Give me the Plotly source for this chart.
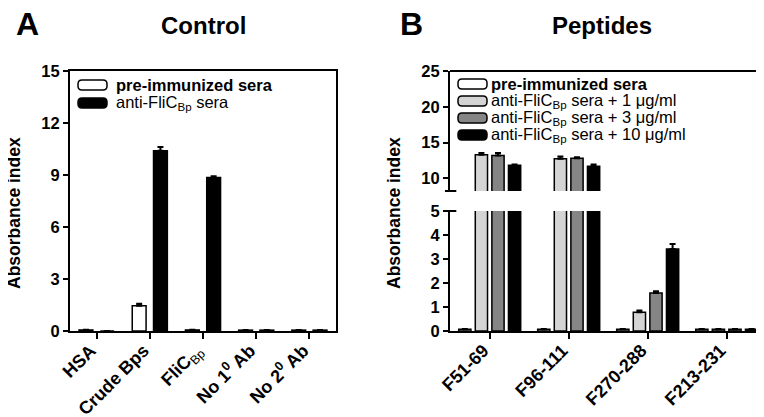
import plotly.graph_objects as go

W, H = 764, 417


def fx(px):
    return px / W


def fy(py):
    return 1 - py / H


FONT = "Liberation Sans, Arial, sans-serif"

# ---------------- Panel A data ----------------
categories_a = ["HSA", "Crude Bps",
                "FliC<sub><span style='font-weight:normal'>Bp</span></sub>",
                "No 1<sup>0</sup> Ab", "No 2<sup>0</sup> Ab"]
names_a = ["<b>pre-immunized sera</b>", "anti-FliC<sub>Bp</sub> sera"]
colors_a = ["#ffffff", "#000000"]
pre_a = [0.06, 1.45, 0.06, 0.05, 0.05]
pre_a_err = [0.01, 0.12, 0.01, 0.01, 0.01]
anti_a = [0.0, 10.4, 8.85, 0.05, 0.05]
anti_a_err = [0.0, 0.22, 0.08, 0.01, 0.01]
values_a = [pre_a, anti_a]
errors_a = [pre_a_err, anti_a_err]

# ---------------- Panel B data ----------------
categories_b = ["F51-69", "F96-111", "F270-288", "F213-231"]
names_b = ["<b>pre-immunized sera</b>",
           "anti-FliC<sub>Bp</sub> sera + 1 \u03bcg/ml",
           "anti-FliC<sub>Bp</sub> sera + 3 \u03bcg/ml",
           "anti-FliC<sub>Bp</sub> sera + 10 \u03bcg/ml"]
colors_b = ["#ffffff", "#d4d4d4", "#858585", "#000000"]
pre_b = [0.07, 0.07, 0.07, 0.07]
c1_b = [13.3, 12.75, 0.78, 0.07]
c3_b = [13.2, 12.8, 1.58, 0.07]
c10_b = [11.85, 11.7, 3.42, 0.07]
pre_b_err = [0.01, 0.01, 0.01, 0.01]
c1_b_err = [0.25, 0.3, 0.07, 0.01]
c3_b_err = [0.35, 0.15, 0.08, 0.01]
c10_b_err = [0.1, 0.25, 0.2, 0.01]
values_b = [pre_b, c1_b, c3_b, c10_b]
errors_b = [pre_b_err, c1_b_err, c3_b_err, c10_b_err]

y_ticks_a = [0, 3, 6, 9, 12, 15]
y_ticks_b_low = [0, 1, 2, 3, 4, 5]
y_ticks_b_high = [10, 15, 20, 25]
break_low = 8.24

fig = go.Figure()


def err(arr):
    return dict(type="data", array=arr, arrayminus=[0] * len(arr), symmetric=False,
                color="black", thickness=2, width=3)


for i, (vals, errs, col) in enumerate(zip(values_a, errors_a, colors_a)):
    fig.add_trace(go.Bar(x=categories_a, y=vals, width=0.26, offset=-0.33 + 0.4 * i,
                         marker=dict(color=col, line=dict(color="black", width=1.5)),
                         error_y=err(errs), xaxis="x", yaxis="y", showlegend=False))

for ya in ["y2", "y3"]:
    for i, (vals, errs, col) in enumerate(zip(values_b, errors_b, colors_b)):
        fig.add_trace(go.Bar(x=categories_b, y=vals, width=0.155, offset=-0.39 + 0.21 * i,
                             marker=dict(color=col, line=dict(color="black", width=1.5)),
                             error_y=err(errs), xaxis="x2", yaxis=ya, showlegend=False))

yfont = dict(family=FONT, size=16.5, color="black", weight="bold")
xfont = dict(family=FONT, size=18, color="black", weight="bold")


def ax(**kw):
    d = dict(showline=True, linecolor="black", linewidth=2, ticks="outside",
             ticklen=5, tickwidth=2, tickcolor="black", showgrid=False,
             zeroline=False, automargin=False, tickfont=yfont)
    d.update(kw)
    return d


xa = ax(tickfont=xfont, domain=[fx(62), fx(328)], anchor="y",
        range=[-0.5, 4.5], tickangle=-45, ticklen=6, mirror=True, type="category")
xb = ax(tickfont=xfont, domain=[fx(442), fx(758)], anchor="y2",
        range=[-0.5, 3.5], tickangle=-45, ticklen=6, type="category")

fig.update_layout(
    width=W, height=H, margin=dict(l=0, r=0, t=0, b=0),
    plot_bgcolor="white", paper_bgcolor="white", barmode="overlay",
    xaxis=xa, xaxis2=xb,
    yaxis=ax(domain=[fy(323), fy(63)], anchor="x", range=[0, 15],
             tickvals=y_ticks_a, mirror=True),
    yaxis2=ax(domain=[fy(323), fy(203)], anchor="x2", range=[0, 5],
              tickvals=y_ticks_b_low),
    yaxis3=ax(domain=[fy(183), fy(63)], anchor="x2", range=[break_low, 25],
              tickvals=y_ticks_b_high),
)
for name in ["xaxis", "xaxis2"]:
    try:
        fig.update_layout({name: dict(ticklabelshift=-6)})
    except Exception:
        pass
    try:
        fig.update_layout({name: dict(ticklabelstandoff=-6)})
    except Exception:
        pass

shapes = []
line = dict(color="black", width=2)
# frame for panel B
shapes.append(dict(type="line", xref="x2 domain", yref="y3 domain", x0=0, x1=1, y0=1, y1=1, line=line))
shapes.append(dict(type="line", xref="x2 domain", yref="paper", x0=1, x1=1, y0=fy(323), y1=fy(63), line=line))
# axis break caps
shapes.append(dict(type="line", xref="x2 domain", yref="y2 domain", x0=-0.016, x1=0.02, y0=1, y1=1, line=line))
shapes.append(dict(type="line", xref="x2 domain", yref="y3 domain", x0=-0.016, x1=0.02, y0=0, y1=0, line=line))


def pill(cx, cy, color):
    w, h, r = 14.5, 5, 4
    p = (f"M{-w + r},{-h} L{w - r},{-h} Q{w},{-h} {w},{-h + r} L{w},{h - r} Q{w},{h} {w - r},{h} "
         f"L{-w + r},{h} Q{-w},{h} {-w},{h - r} L{-w},{-h + r} Q{-w},{-h} {-w + r},{-h} Z")
    return dict(type="path", xref="paper", yref="paper", xsizemode="pixel", ysizemode="pixel",
                xanchor=fx(cx), yanchor=fy(cy), path=p, fillcolor=color,
                line=dict(color="black", width=1.5))


annotations = []
legfont = dict(family=FONT, size=16.5, color="black")
for i, (nm, col) in enumerate(zip(names_a, colors_a)):
    cy = 77 + 18 * i
    shapes.append(pill(84.5, cy, col))
    annotations.append(dict(text=nm, xref="paper", yref="paper", x=fx(106), y=fy(cy),
                            xanchor="left", yanchor="middle", showarrow=False, font=legfont))
for i, (nm, col) in enumerate(zip(names_b, colors_b)):
    cy = 76 + 17 * i
    shapes.append(pill(464.5, cy, col))
    annotations.append(dict(text=nm, xref="paper", yref="paper", x=fx(481), y=fy(cy),
                            xanchor="left", yanchor="middle", showarrow=False, font=legfont))

titlefont = dict(family=FONT, size=24, color="black", weight="bold")
letterfont = dict(family=FONT, size=32, color="black", weight="bold")
ytfont = dict(family=FONT, size=17.5, color="black", weight="bold")
labels = [
    dict(text="A", x=fx(19), y=fy(16), font=letterfont),
    dict(text="Control", x=fx(195), y=fy(18), font=titlefont),
    dict(text="B", x=fx(404), y=fy(16), font=letterfont),
    dict(text="Peptides", x=fx(594), y=fy(18), font=titlefont),
    dict(text="Absorbance index", x=fx(6), y=fy(205), textangle=-90, font=ytfont),
    dict(text="Absorbance index", x=fx(386), y=fy(205), textangle=-90, font=ytfont),
]
for a in labels:
    a.update(xref="paper", yref="paper", showarrow=False, xanchor="center", yanchor="middle")
annotations += labels

fig.update_layout(shapes=shapes, annotations=annotations)
fig.write_html("out.html")
